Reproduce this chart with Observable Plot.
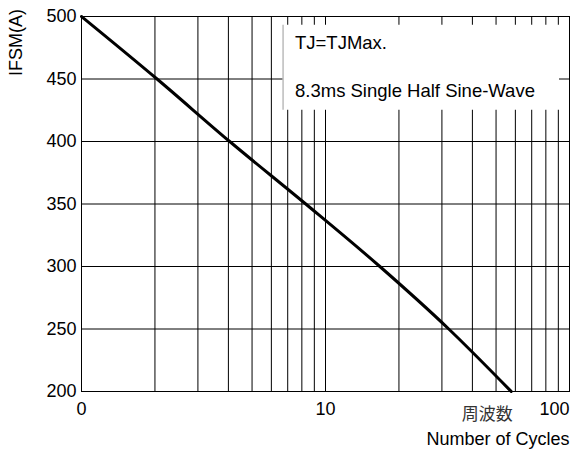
<!DOCTYPE html>
<html>
<head>
<meta charset="utf-8">
<script src="https://cdn.jsdelivr.net/npm/d3@7"></script>
<script src="https://cdn.jsdelivr.net/npm/@observablehq/plot@0.6"></script>
<style>
  html, body { margin: 0; padding: 0; background: #fff; }
  svg { font-family: "Liberation Sans", Arial, sans-serif; }
</style>
</head>
<body>
<div id="chart"></div>
<script>
// Surge current curve
const cycles = [1, 2.04, 4.05, 8.3, 16.7, 32, 57.7];
const ifsm = [500, 450, 400, 350, 300, 250, 200];

const xGrid = [1, 2, 3, 4, 5, 6, 7, 8, 9, 10, 20, 30, 40, 50, 60, 70, 80, 90, 100];
const yTicks = [200, 250, 300, 350, 400, 450, 500];
const xTickValues = [1, 10, 100];
const xTickLabels = ["0", "10", "100"];

const noteLines = ["TJ=TJMax.", "8.3ms Single Half Sine-Wave"];
const noteY = [478.5, 440.5];
const noteX = 7.5;
const noteBox = {x1: 6.7, x2: 91, y1: 425, y2: 493};

const data = cycles.map((c, i) => ({c, v: ifsm[i]}));

const chart = Plot.plot({
  width: 583,
  height: 450,
  marginLeft: 81,
  marginRight: 14,
  marginTop: 16,
  marginBottom: 59,
  style: {fontFamily: "Liberation Sans, Arial, sans-serif", fontSize: "18px", color: "#000", background: "#fff"},
  x: {type: "log", domain: [1, 100], axis: null},
  y: {domain: [200, 500], axis: null},
  marks: [
    Plot.ruleX(xGrid, {stroke: "#000", strokeWidth: 1}),
    Plot.ruleY(yTicks, {stroke: "#000", strokeWidth: 1}),
    Plot.rect([noteBox], {x1: "x1", x2: "x2", y1: "y1", y2: "y2", fill: "#fff"}),
    Plot.ruleX([noteBox], {x: "x1", y1: "y1", y2: "y2", stroke: "#999", strokeWidth: 1}),
    Plot.frame({stroke: "#000", strokeWidth: 1}),
    Plot.line(data, {x: "c", y: "v", stroke: "#000", strokeWidth: 3, curve: "monotone-x"}),
    Plot.text(noteLines, {x: () => noteX, y: (d, i) => noteY[i], text: d => d, textAnchor: "start", fontSize: 18.5, fill: "#000"}),
    Plot.text(yTicks, {x: () => 1, y: d => d, text: d => String(d), textAnchor: "end", dx: -5, fontSize: 18, fill: "#000"}),
    Plot.text(xTickValues.slice(0, 2), {x: d => d, y: () => 200, text: (d, i) => xTickLabels[i], lineAnchor: "top", dy: 11, fontSize: 18, fill: "#000"}),
    Plot.text([xTickValues[2]], {x: d => d, y: () => 200, text: () => xTickLabels[2], textAnchor: "end", lineAnchor: "top", dy: 11, fontSize: 18, fill: "#000"}),
    Plot.text(["周波数"], {x: () => 46, y: () => 200, text: d => d, lineAnchor: "top", dy: 16, fontSize: 17, fill: "#333", fontFamily: "Noto Sans CJK JP"}),
    Plot.text(["Number of Cycles"], {frameAnchor: "bottom-right", text: d => d, textAnchor: "end", lineAnchor: "bottom", dy: 53, fontSize: 18, fill: "#000"}),
    Plot.text(["IFSM(A)"], {frameAnchor: "top-left", text: d => d, rotate: -90, textAnchor: "middle", lineAnchor: "middle", dx: -65, dy: 26, fontSize: 18, fill: "#000"})
  ]
});
document.getElementById("chart").appendChild(chart);
</script>
</body>
</html>
